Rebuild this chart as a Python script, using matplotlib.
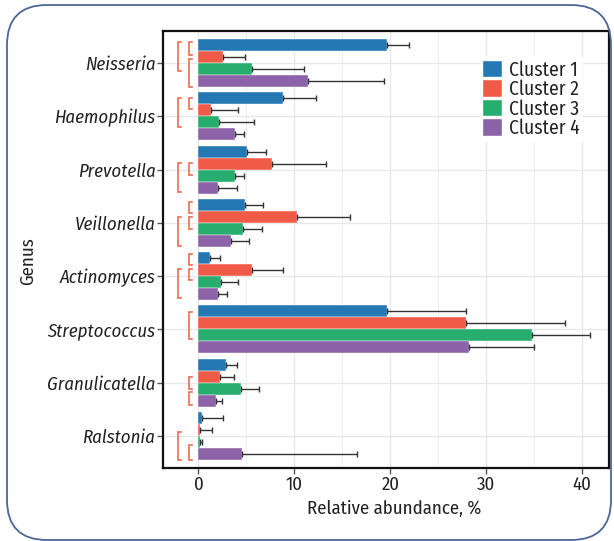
import numpy as np
import matplotlib
matplotlib.use('Agg')
import matplotlib.pyplot as plt
from matplotlib import font_manager
from matplotlib.patches import FancyBboxPatch
from matplotlib.transforms import IdentityTransform
from matplotlib.ticker import MultipleLocator

# genera listed top to bottom
genera = ['Neisseria', 'Haemophilus', 'Prevotella', 'Veillonella',
          'Actinomyces', 'Streptococcus', 'Granulicatella', 'Ralstonia']
clusters = ['Cluster 1', 'Cluster 2', 'Cluster 3', 'Cluster 4']
colors = ['#2479B5', '#EF5B47', '#27AD6E', '#8C62A8']

# mean relative abundance, %
mean_c1 = [19.7, 8.85, 5.1, 4.9, 1.25, 19.7, 2.9, 0.35]
mean_c2 = [2.6, 1.3, 7.7, 10.25, 5.55, 27.9, 2.26, 0.18]
mean_c3 = [5.55, 2.1, 3.8, 4.6, 2.36, 34.8, 4.4, 0.2]
mean_c4 = [11.46, 3.8, 2.0, 3.4, 2.0, 28.2, 1.84, 4.58]

# standard deviation, %
sd_c1 = [2.3, 3.45, 1.9, 1.8, 0.95, 8.2, 1.1, 2.25]
sd_c2 = [2.3, 2.8, 5.6, 5.55, 3.25, 10.3, 1.4, 1.28]
sd_c3 = [5.45, 3.7, 0.9, 2.0, 1.74, 6.0, 1.9, 0.12]
sd_c4 = [7.84, 0.9, 2.06, 1.9, 0.96, 6.8, 0.6, 11.9]

# significance brackets: genus, level, start/end in bar slots (0 = top of group, 4 = bottom)
brackets = [
    ('Neisseria', 'outer', 0.28, 2.67),
    ('Neisseria', 'inner', 0.25, 1.33),
    ('Neisseria', 'inner', 1.67, 3.98),
    ('Haemophilus', 'outer', 0.5, 2.87),
    ('Haemophilus', 'inner', 0.5, 1.43),
    ('Prevotella', 'outer', 1.48, 3.83),
    ('Prevotella', 'inner', 1.48, 2.45),
    ('Veillonella', 'inner', 0.23, 1.2),
    ('Veillonella', 'inner', 1.53, 2.53),
    ('Veillonella', 'outer', 1.53, 3.93),
    ('Actinomyces', 'inner', 0.18, 1.07),
    ('Actinomyces', 'inner', 1.4, 2.32),
    ('Actinomyces', 'outer', 1.4, 3.79),
    ('Streptococcus', 'inner', 0.52, 2.79),
    ('Granulicatella', 'inner', 1.49, 2.54),
    ('Granulicatella', 'inner', 2.79, 3.85),
    ('Ralstonia', 'outer', 1.63, 4.0),
    ('Ralstonia', 'inner', 2.74, 4.0),
]

# pick a condensed face if one is installed
names = {f.name for f in font_manager.fontManager.ttflist}
font = 'Open Sans'
for cand in ['Fira Sans Condensed', 'Asap Condensed']:
    if cand in names:
        font = cand
        break
plt.rcParams['font.family'] = [font, 'DejaVu Sans']
plt.rcParams['font.weight'] = 'normal'
fs = 13.5

fig = plt.figure(figsize=(6.14, 5.41), dpi=100)
ax = fig.add_axes([163 / 614, 73 / 541, 446 / 614, 437 / 541])

bar_h = 0.225
ypos = np.arange(len(genera), 0, -1)
means = [mean_c1, mean_c2, mean_c3, mean_c4]
sds = [sd_c1, sd_c2, sd_c3, sd_c4]
for k in range(4):
    y = ypos + (1.5 - k) * bar_h
    ax.barh(y, means[k], height=bar_h, color=colors[k], label=clusters[k],
            edgecolor='white', linewidth=0.3, zorder=3)
    ax.errorbar(means[k], y, xerr=[np.zeros(len(genera)), sds[k]], fmt='none',
                ecolor='#333333', elinewidth=1.0, capsize=2.5, capthick=1.0, zorder=4)

bracket_x = {'outer': -2.1, 'inner': -1.0}
tick = 0.3
for g, level, s0, s1 in brackets:
    c = ypos[genera.index(g)]
    y0 = c + 2 * bar_h - s0 * bar_h
    y1 = c + 2 * bar_h - s1 * bar_h
    x = bracket_x[level]
    ax.plot([x + tick, x, x, x + tick], [y0, y0, y1, y1], color='#F26B50',
            lw=1.2, solid_joinstyle='miter', zorder=3)

ax.set_xlim(-3.7, 42.8)
ax.set_ylim(0.4, 8.6)
ax.set_yticks(ypos)
ax.set_yticklabels(genera, fontstyle='italic', fontsize=fs, color='#222222')
ax.xaxis.set_major_locator(MultipleLocator(10))
ax.xaxis.set_minor_locator(MultipleLocator(5))
ax.tick_params(axis='x', which='minor', length=0)
ax.tick_params(axis='both', which='major', length=4, width=1, color='#555555',
               labelsize=fs, labelcolor='#222222')
ax.tick_params(axis='x', pad=2)
ax.tick_params(axis='y', pad=1.5)
ax.grid(True, which='major', color='#E8E8E8', lw=1.0, zorder=0)
ax.grid(True, which='minor', axis='x', color='#EDEDED', lw=0.7, zorder=0)
ax.set_axisbelow(True)
for sp in ax.spines.values():
    sp.set_linewidth(1.6)
    sp.set_color('#111111')

ax.set_xlabel('Relative abundance, %', fontsize=fs, color='#222222')
ax.set_ylabel('Genus', fontsize=fs, color='#222222')
ax.xaxis.set_label_coords(0.518, -0.073)
ax.yaxis.set_label_coords(-0.283, 0.474)

leg = ax.legend(loc='upper left', bbox_to_anchor=(0.712, 0.94), fontsize=14,
                handlelength=0.95, handleheight=0.95, handletextpad=0.35,
                labelspacing=0.0, borderpad=0.15, borderaxespad=0,
                frameon=True, fancybox=False, edgecolor='white', framealpha=1)
for t in leg.get_texts():
    t.set_color('#222222')

# rounded frame around the panel
frame = FancyBboxPatch((7, 1), 604, 535, boxstyle='round,pad=0,rounding_size=40',
                       transform=IdentityTransform(), fill=False,
                       edgecolor='#4C6796', lw=1.3)
fig.patches.append(frame)

fig.savefig('out.png', dpi=100)
